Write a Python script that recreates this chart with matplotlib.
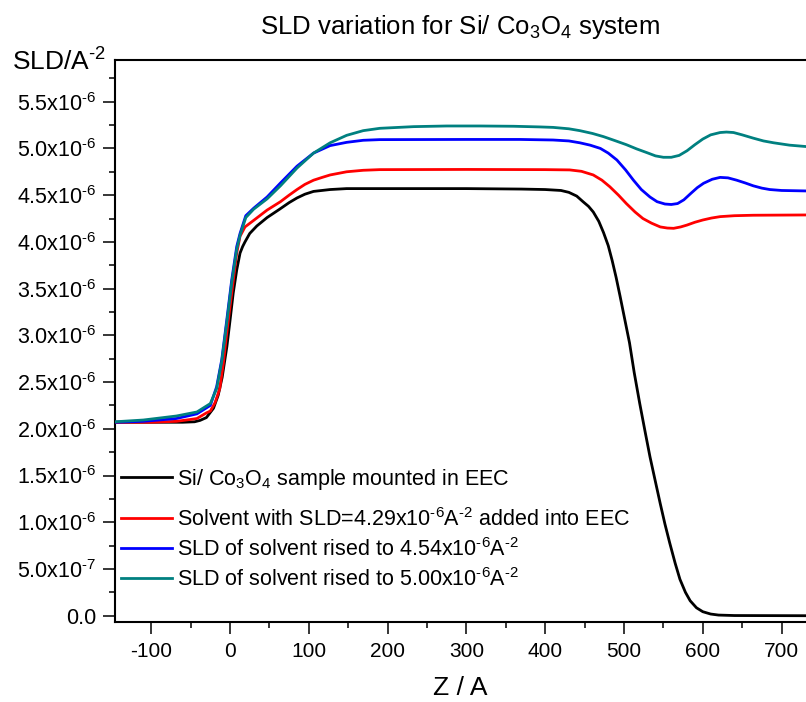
import numpy as np
import matplotlib
matplotlib.use("Agg")
import matplotlib.pyplot as plt
from matplotlib.ticker import FixedLocator, FixedFormatter, MultipleLocator
from matplotlib.lines import Line2D

plt.rcParams['font.family'] = ['Liberation Sans', 'DejaVu Sans']
plt.rcParams['mathtext.fontset'] = 'custom'
plt.rcParams['mathtext.rm'] = 'Liberation Sans'
plt.rcParams['mathtext.it'] = 'Liberation Sans:italic'
plt.rcParams['mathtext.bf'] = 'Liberation Sans:bold'
plt.rcParams['mathtext.default'] = 'regular'

SCALE = 1e-6  # SLD values below are in units of 1e-6 A^-2

# Black: Si/ Co3O4 sample mounted in EEC
z_black = [-146, -100, -60, -45, -38, -30, -21, -15, -10, -4, 0, 4, 8.5, 12.7, 16, 19, 25, 34, 47,
           63, 75, 85, 95, 106, 127, 148, 200, 300, 370, 400, 420, 430, 440, 448, 455, 461, 468,
           474, 480, 485, 490, 495, 501, 507, 513, 520, 527, 533, 540, 546, 552, 558, 565, 571,
           578, 584, 592, 600, 610, 620, 640, 731]
sld_black = [2.07, 2.07, 2.07, 2.075, 2.09, 2.12, 2.22, 2.36, 2.55, 2.88, 3.16, 3.45, 3.70, 3.88,
             3.95, 4.00, 4.09, 4.17, 4.26, 4.35, 4.42, 4.47, 4.51, 4.54, 4.56, 4.57, 4.57, 4.57,
             4.565, 4.56, 4.55, 4.53, 4.49, 4.43, 4.38, 4.32, 4.22, 4.10, 3.96, 3.80, 3.62, 3.42,
             3.17, 2.92, 2.60, 2.27, 1.96, 1.70, 1.43, 1.20, 0.98, 0.78, 0.56, 0.39, 0.25, 0.16,
             0.085, 0.043, 0.018, 0.007, 0.002, 0.0]

# Red: solvent SLD 4.29e-6
z_red = [-146, -100, -68, -50, -42, -30, -25, -19, -13, -8.5, -4.2, 0, 4.2, 8.5, 12.7, 19, 30, 47,
         64, 75, 85, 95, 106, 117, 127, 148, 169, 190, 300, 400, 431, 446, 461, 472, 482, 493, 503,
         514, 524, 535, 546, 555, 563, 572, 580, 590, 600, 611, 622, 640, 664, 731]
sld_red = [2.07, 2.07, 2.08, 2.10, 2.11, 2.17, 2.19, 2.28, 2.43, 2.70, 3.02, 3.31, 3.59, 3.88, 4.06,
           4.16, 4.23, 4.34, 4.43, 4.50, 4.56, 4.615, 4.66, 4.69, 4.716, 4.75, 4.766, 4.773, 4.775,
           4.773, 4.77, 4.755, 4.716, 4.66, 4.59, 4.50, 4.41, 4.32, 4.25, 4.20, 4.16, 4.148, 4.145,
           4.16, 4.18, 4.21, 4.234, 4.255, 4.27, 4.28, 4.285, 4.288]

# Blue: solvent SLD 4.54e-6
z_blue = [-146, -110, -68, -42, -25, -17, -10.5, -4.2, 2.1, 8.5, 12.7, 20, 30, 47, 64, 85, 106, 127,
          148, 169, 190, 300, 368, 410, 430, 444, 457, 470, 480, 491, 502, 512, 522, 533, 542, 552,
          560, 568, 576, 585, 593, 601, 612, 622, 632, 643, 654, 664, 675, 685, 700, 731]
sld_blue = [2.07, 2.08, 2.11, 2.16, 2.25, 2.45, 2.74, 3.16, 3.59, 3.95, 4.09, 4.28, 4.36, 4.48, 4.63,
            4.81, 4.95, 5.03, 5.065, 5.087, 5.094, 5.096, 5.096, 5.09, 5.08, 5.06, 5.035, 5.00,
            4.95, 4.876, 4.77, 4.66, 4.56, 4.48, 4.43, 4.405, 4.40, 4.41, 4.45, 4.52, 4.58, 4.627,
            4.67, 4.69, 4.685, 4.66, 4.63, 4.60, 4.575, 4.56, 4.55, 4.545]

# Teal: solvent SLD 5.00e-6
z_teal = [-146, -110, -68, -42, -25, -17, -10.5, -4.2, 2.1, 8.5, 12.7, 20, 30, 47, 64, 85, 106, 127,
          148, 169, 190, 233, 275, 317, 360, 393, 410, 430, 444, 460, 474, 488, 503, 516, 529, 540,
          550, 560, 570, 580, 590, 600, 610, 622, 630, 639, 650, 664, 677, 690, 710, 731]
sld_teal = [2.075, 2.094, 2.137, 2.18, 2.27, 2.43, 2.72, 3.13, 3.56, 3.92, 4.07, 4.26, 4.35, 4.46,
            4.60, 4.79, 4.95, 5.06, 5.14, 5.19, 5.215, 5.233, 5.24, 5.24, 5.237, 5.23, 5.225, 5.21,
            5.19, 5.16, 5.126, 5.085, 5.04, 4.995, 4.955, 4.92, 4.905, 4.905, 4.925, 4.975, 5.04,
            5.10, 5.145, 5.17, 5.175, 5.17, 5.145, 5.11, 5.08, 5.06, 5.035, 5.02]

labels = [
    "Si/ Co$_3$O$_4$ sample mounted in EEC",
    "Solvent with SLD=4.29x10$^{\\text{-}6}$A$^{\\text{-}2}$ added into EEC",
    "SLD of solvent rised to 4.54x10$^{\\text{-}6}$A$^{\\text{-}2}$",
    "SLD of solvent rised to 5.00x10$^{\\text{-}6}$A$^{\\text{-}2}$",
]
colors = ["#000000", "#ff0000", "#0000ff", "#008080"]

x_ticks = [-100, 0, 100, 200, 300, 400, 500, 600, 700]
x_tick_labels = ["-100", "0", "100", "200", "300", "400", "500", "600", "700"]
y_ticks = [0.0, 0.5, 1.0, 1.5, 2.0, 2.5, 3.0, 3.5, 4.0, 4.5, 5.0, 5.5]
y_tick_labels = ["0.0"] + ["%sx10$^{\\text{-}%d}$" % (m, e) for m, e in
                           [("5.0", 7), ("1.0", 6), ("1.5", 6), ("2.0", 6), ("2.5", 6), ("3.0", 6),
                            ("3.5", 6), ("4.0", 6), ("4.5", 6), ("5.0", 6), ("5.5", 6)]]

fig = plt.figure(figsize=(8.06, 7.02), dpi=100)
ax = fig.add_axes([115/806, 1-621.7/702, (806-115)/806, (621.7-60)/702])

series = [(z_black, sld_black), (z_red, sld_red), (z_blue, sld_blue), (z_teal, sld_teal)]
for (zz, ss), c in zip(series, colors):
    ax.plot(zz, np.array(ss) * SCALE, color=c, lw=2.0, solid_joinstyle='round', zorder=3)

ax.set_xlim(-146, 731)
ax.set_ylim(-0.064 * SCALE, 5.946 * SCALE)

ax.xaxis.set_major_locator(FixedLocator(x_ticks))
ax.xaxis.set_major_formatter(FixedFormatter(x_tick_labels))
ax.xaxis.set_minor_locator(MultipleLocator(50))
ax.yaxis.set_major_locator(FixedLocator([v * SCALE for v in y_ticks]))
ax.yaxis.set_major_formatter(FixedFormatter(y_tick_labels))
ax.yaxis.set_minor_locator(MultipleLocator(0.25 * SCALE))

ax.tick_params(which='major', direction='out', length=8.5, width=1.1, labelsize=15, pad=6)
ax.tick_params(which='minor', direction='out', length=4.3, width=1.1)
ax.tick_params(axis='y', which='major', labelsize=15.5, pad=5)
ax.tick_params(top=False, right=False, which='both')
ax.spines['right'].set_visible(False)
for s in ['left', 'bottom', 'top']:
    ax.spines[s].set_linewidth(1.5)

ax.set_title("SLD variation for Si/ Co$_3$O$_4$ system", fontsize=18.5, pad=19)
ax.set_xlabel("Z / A", fontsize=19, va='baseline')
ax.xaxis.set_label_coords(0.5, (621.7-695)/561.7)
ax.set_ylabel("SLD/A$^{\\text{-}2}$", fontsize=19, rotation=0, ha='left', va='baseline')
ax.yaxis.set_label_coords((12-115)/691, (621.7-70.7)/561.7)

handles = [Line2D([], [], color=c, lw=2.0) for c in colors]
leg_kw = dict(loc='upper left', frameon=False, fontsize=15.5, handlelength=2.37,
              handletextpad=0.26, labelspacing=0.33, borderpad=0, borderaxespad=0)
leg1 = ax.legend(handles[:1], labels[:1], bbox_to_anchor=(0.008, 0.2755), **leg_kw)
ax.add_artist(leg1)
ax.legend(handles[1:], labels[1:], bbox_to_anchor=(0.008, 0.2024), **leg_kw)

fig.savefig("out.png", dpi=100)
